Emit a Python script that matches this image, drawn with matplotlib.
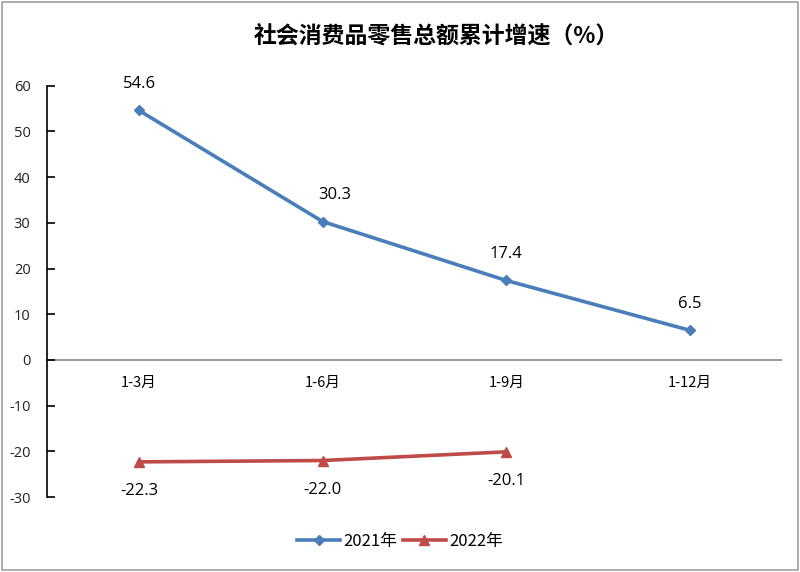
import matplotlib
matplotlib.use("Agg")
import matplotlib.pyplot as plt
from matplotlib.patches import Rectangle
from matplotlib.lines import Line2D

plt.rcParams['font.family'] = ['Noto Sans CJK SC', 'DejaVu Sans']

categories = ["1-3月", "1-6月", "1-9月", "1-12月"]
series_2021 = [54.6, 30.3, 17.4, 6.5]
series_2022 = [-22.3, -22.0, -20.1]
series_names = ["2021年", "2022年"]
title = "社会消费品零售总额累计增速（%）"
yticks = [60, 50, 40, 30, 20, 10, 0, -10, -20, -30]

blue = "#4A7EBB"
red = "#BE4B48"

fig = plt.figure(figsize=(8, 5.72), dpi=100)
ax = fig.add_axes([0.059, 0.131, 0.918, 0.719])

x1 = list(range(len(series_2021)))
x2 = list(range(len(series_2022)))
ax.plot(x1, series_2021, color=blue, lw=2.6, marker="D", ms=5.5, label=series_names[0])
ax.plot(x2, series_2022, color=red, lw=2.6, marker="^", ms=7, label=series_names[1])

ax.set_xlim(-0.5, len(categories) - 0.5)
ax.set_ylim(-30, 60)
ax.set_yticks(yticks)
ax.set_yticklabels([str(v) for v in yticks], fontfamily="Open Sans", fontsize=10.5, color="#222222")
ax.set_xticks([])

for s in ["top", "right", "bottom"]:
    ax.spines[s].set_visible(False)
ax.spines["left"].set_linewidth(1.2)
ax.spines["left"].set_color("black")
ax.tick_params(axis="y", direction="in", length=6, width=1.2, pad=12)
ax.axhline(0, color="#868686", lw=1.2, zorder=1)

for i, c in enumerate(categories):
    ax.annotate(c, (i, 0), xytext=(0, -16.5), textcoords="offset points",
                ha="center", va="center", fontsize=10.5, color="black")

offsets_2021 = [(0, 19), (9, 19), (0, 19), (0, 19)]
for i, v in enumerate(series_2021):
    ax.annotate(f"{v:.1f}", (i, v), xytext=offsets_2021[i], textcoords="offset points",
                ha="center", va="center", fontsize=12, fontfamily="Open Sans")
offsets_2022 = [(0, -21), (0, -21), (0, -21)]
for i, v in enumerate(series_2022):
    ax.annotate(f"{v:.1f}", (i, v), xytext=offsets_2022[i], textcoords="offset points",
                ha="center", va="center", fontsize=12, fontfamily="Open Sans")

fig.text(0.546, 0.937, title, ha="center", va="center", fontsize=16.5, fontweight="bold")

handles = [Line2D([], [], color=blue, lw=2.6, marker="D", ms=5.5),
           Line2D([], [], color=red, lw=2.6, marker="^", ms=7)]
fig.legend(handles, series_names, loc="center", bbox_to_anchor=(0.5, 0.054), ncol=2,
           frameon=False, fontsize=12, handlelength=2.6, columnspacing=0.3, handletextpad=0.2)

fig.patches.append(Rectangle((0.002, 0.003), 0.995, 0.994, transform=fig.transFigure,
                             fill=False, edgecolor="#A0A0A0", lw=1.2))

fig.savefig("out.png", dpi=100)
